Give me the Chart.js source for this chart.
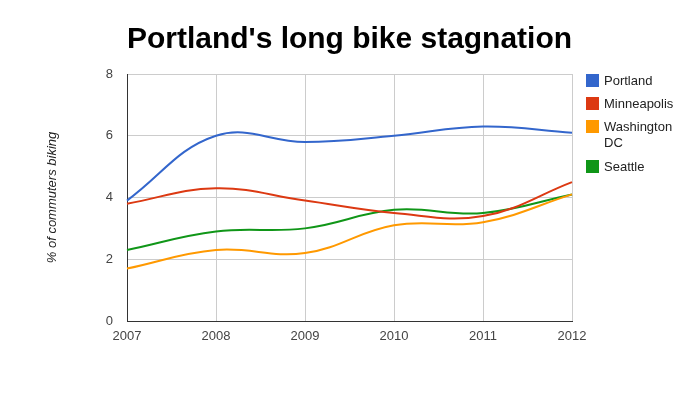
<!DOCTYPE html>
<html lang="en">
<head>
    <meta charset="UTF-8">
    <title>Portland's long bike stagnation</title>
    <script src="https://cdn.jsdelivr.net/npm/chart.js"></script>
    <style>
        body {
            margin: 0;
            background: #fff;
            font-family: Arial, "Liberation Sans", sans-serif;
        }
        #wrap {
            width: 695px;
            height: 397px;
        }
    </style>
</head>
<body>
    <div id="wrap"><canvas id="bikeChart"></canvas></div>

    <script>
        // years on the x axis
        const years = ['2007', '2008', '2009', '2010', '2011', '2012'];

        // % of commuters biking
        const portland = [3.9, 6.0, 5.8, 6.0, 6.3, 6.1];
        const minneapolis = [3.8, 4.3, 3.9, 3.5, 3.4, 4.5];
        const washingtonDC = [1.7, 2.3, 2.2, 3.1, 3.2, 4.1];
        const seattle = [2.3, 2.9, 3.0, 3.6, 3.5, 4.1];

        const seriesNames = ['Portland', 'Minneapolis', 'Washington DC', 'Seattle'];
        const colors = ['#3366cc', '#dc3912', '#ff9900', '#109618'];

        const fontFamily = 'Arial, "Liberation Sans", sans-serif';

        // legend on the right, with "Washington DC" wrapped on two lines
        const sideLegend = {
            id: 'sideLegend',
            afterDraw(chart) {
                const ctx = chart.ctx;
                const area = chart.chartArea;
                const x = area.right + 14;
                let y = area.top;
                ctx.save();
                ctx.font = '13px ' + fontFamily;
                ctx.textBaseline = 'middle';
                ctx.textAlign = 'left';
                chart.data.datasets.forEach(function (ds) {
                    const lines = ds.label === 'Washington DC' ? ['Washington', 'DC'] : [ds.label];
                    ctx.fillStyle = ds.borderColor;
                    ctx.fillRect(x, y, 13, 13);
                    ctx.fillStyle = '#222';
                    lines.forEach(function (line, i) {
                        ctx.fillText(line, x + 18, y + 7 + i * 16.5);
                    });
                    y += 6 + lines.length * 17;
                });
                ctx.restore();
            }
        };

        function makeDataset(i, values) {
            return {
                label: seriesNames[i],
                data: values,
                borderColor: colors[i],
                backgroundColor: colors[i],
                borderWidth: 2,
                pointRadius: 0,
                tension: 0.4,
                fill: false
            };
        }

        new Chart(document.getElementById('bikeChart'), {
            type: 'line',
            data: {
                labels: years,
                datasets: [
                    makeDataset(0, portland),
                    makeDataset(1, minneapolis),
                    makeDataset(2, washingtonDC),
                    makeDataset(3, seattle)
                ]
            },
            options: {
                responsive: true,
                maintainAspectRatio: false,
                animation: false,
                layout: {
                    padding: { left: 30, right: 123, top: 0, bottom: 46 }
                },
                plugins: {
                    legend: { display: false },
                    tooltip: { enabled: false },
                    title: {
                        display: true,
                        fullSize: false,
                        text: "Portland's long bike stagnation",
                        color: '#000',
                        font: { family: fontFamily, size: 30, weight: 'bold' },
                        padding: { top: 22, bottom: 16 }
                    }
                },
                scales: {
                    x: {
                        grid: { color: '#cccccc', drawTicks: false },
                        border: { color: '#333333' },
                        ticks: {
                            color: '#444',
                            font: { family: fontFamily, size: 13 },
                            padding: 8,
                            maxRotation: 0
                        },
                        afterFit(scale) { scale.height = 30; }
                    },
                    y: {
                        min: 0,
                        max: 8,
                        grid: { color: '#cccccc', drawTicks: false },
                        border: { color: '#333333' },
                        ticks: {
                            stepSize: 2,
                            color: '#444',
                            font: { family: fontFamily, size: 13 },
                            padding: 14
                        },
                        title: {
                            display: true,
                            text: '% of commuters biking',
                            color: '#222',
                            font: { family: fontFamily, size: 13, style: 'italic' },
                            padding: { top: 15, bottom: 0 }
                        },
                        afterFit(scale) { scale.width = 97; }
                    }
                }
            },
            plugins: [sideLegend]
        });
    </script>
</body>
</html>
